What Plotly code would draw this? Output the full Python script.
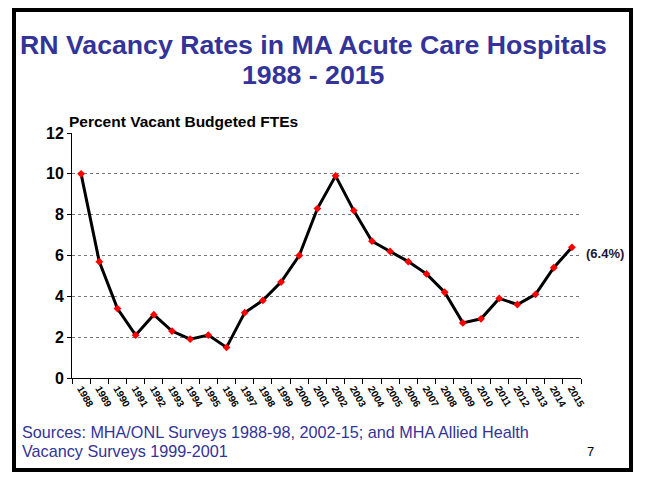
import plotly.graph_objects as go

years = [str(y) for y in range(1988, 2016)]
vacancy = [10.0, 5.7, 3.4, 2.1, 3.1, 2.3, 1.9, 2.1, 1.5, 3.2, 3.8, 4.7, 6.0, 8.3,
           9.9, 8.2, 6.7, 6.2, 5.7, 5.1, 4.2, 2.7, 2.9, 3.9, 3.6, 4.1, 5.4, 6.4]
y_ticks = [0, 2, 4, 6, 8, 10, 12]

W, H = 645, 482
L, R, T, B = 72, 64, 133, 104
pw, ph = W - L - R, H - T - B

def px(x):
    return (x - L) / pw

def py(y):
    return 1 - (y - T) / ph

fig = go.Figure()
fig.add_trace(go.Scatter(
    x=years, y=vacancy, mode="lines+markers",
    line=dict(color="black", width=3),
    marker=dict(color="red", size=6, symbol="diamond"),
    hoverinfo="x+y",
))

fig.update_layout(
    width=W, height=H,
    margin=dict(l=L, r=R, t=T, b=B),
    paper_bgcolor="white", plot_bgcolor="white",
    showlegend=False,
    font=dict(family="Liberation Sans, Arial, sans-serif", color="black"),
)
fig.update_xaxes(
    type="category", range=[-0.5, 27.5],
    showline=True, linecolor="black", linewidth=1,
    ticks="outside", tickson="boundaries", ticklen=5, tickcolor="black",
    tickangle=60, tickfont=dict(size=10, color="black", family="Liberation Sans", weight="bold"),
    showgrid=False, zeroline=False,
)
fig.update_yaxes(
    range=[0, 12], tickvals=y_ticks, ticktext=[str(v) for v in y_ticks],
    showline=True, linecolor="black", linewidth=1,
    ticks="outside", ticklen=4, tickcolor="black",
    tickfont=dict(size=16, color="black", family="Liberation Sans", weight="bold"),
    showgrid=True, gridcolor="#777", griddash="dot", gridwidth=1,
    zeroline=False,
)

ann = []
ann.append(dict(text="<b>RN Vacancy Rates in MA Acute Care Hospitals</b>",
                x=px(313), y=py(45), xref="paper", yref="paper", showarrow=False,
                font=dict(size=26.7, color="#333399", family="Liberation Sans"),
                xanchor="center", yanchor="middle"))
ann.append(dict(text="<b>1988 - 2015</b>",
                x=px(313), y=py(75), xref="paper", yref="paper", showarrow=False,
                font=dict(size=26.7, color="#333399", family="Liberation Sans"),
                xanchor="center", yanchor="middle"))
ann.append(dict(text="<b>Percent Vacant Budgeted FTEs</b>",
                x=px(67), y=py(122), xref="paper", yref="paper", showarrow=False,
                font=dict(size=15.5, color="black", family="Liberation Sans"),
                xanchor="left", yanchor="middle"))
ann.append(dict(text="<b>(6.4%)</b>",
                x=px(584), y=py(253), xref="paper", yref="paper", showarrow=False,
                font=dict(size=13, color="#1a1a33", family="Liberation Sans"),
                xanchor="left", yanchor="middle"))
ann.append(dict(text="Sources: MHA/ONL Surveys 1988-98, 2002-15; and MHA Allied Health",
                x=px(20), y=py(432), xref="paper", yref="paper", showarrow=False,
                font=dict(size=16.2, color="#333399", family="Liberation Sans"),
                xanchor="left", yanchor="middle"))
ann.append(dict(text="Vacancy Surveys 1999-2001",
                x=px(20), y=py(451), xref="paper", yref="paper", showarrow=False,
                font=dict(size=16.2, color="#333399", family="Liberation Sans"),
                xanchor="left", yanchor="middle"))
ann.append(dict(text="7",
                x=px(590), y=py(451), xref="paper", yref="paper", showarrow=False,
                font=dict(size=13, color="black", family="Liberation Sans"),
                xanchor="center", yanchor="middle"))
fig.update_layout(annotations=ann)

fig.add_shape(type="rect", xref="paper", yref="paper",
              x0=px(14), x1=px(631), y0=py(10), y1=py(470),
              line=dict(color="black", width=4), fillcolor="rgba(0,0,0,0)", layer="above")

fig.write_html("out.html")
